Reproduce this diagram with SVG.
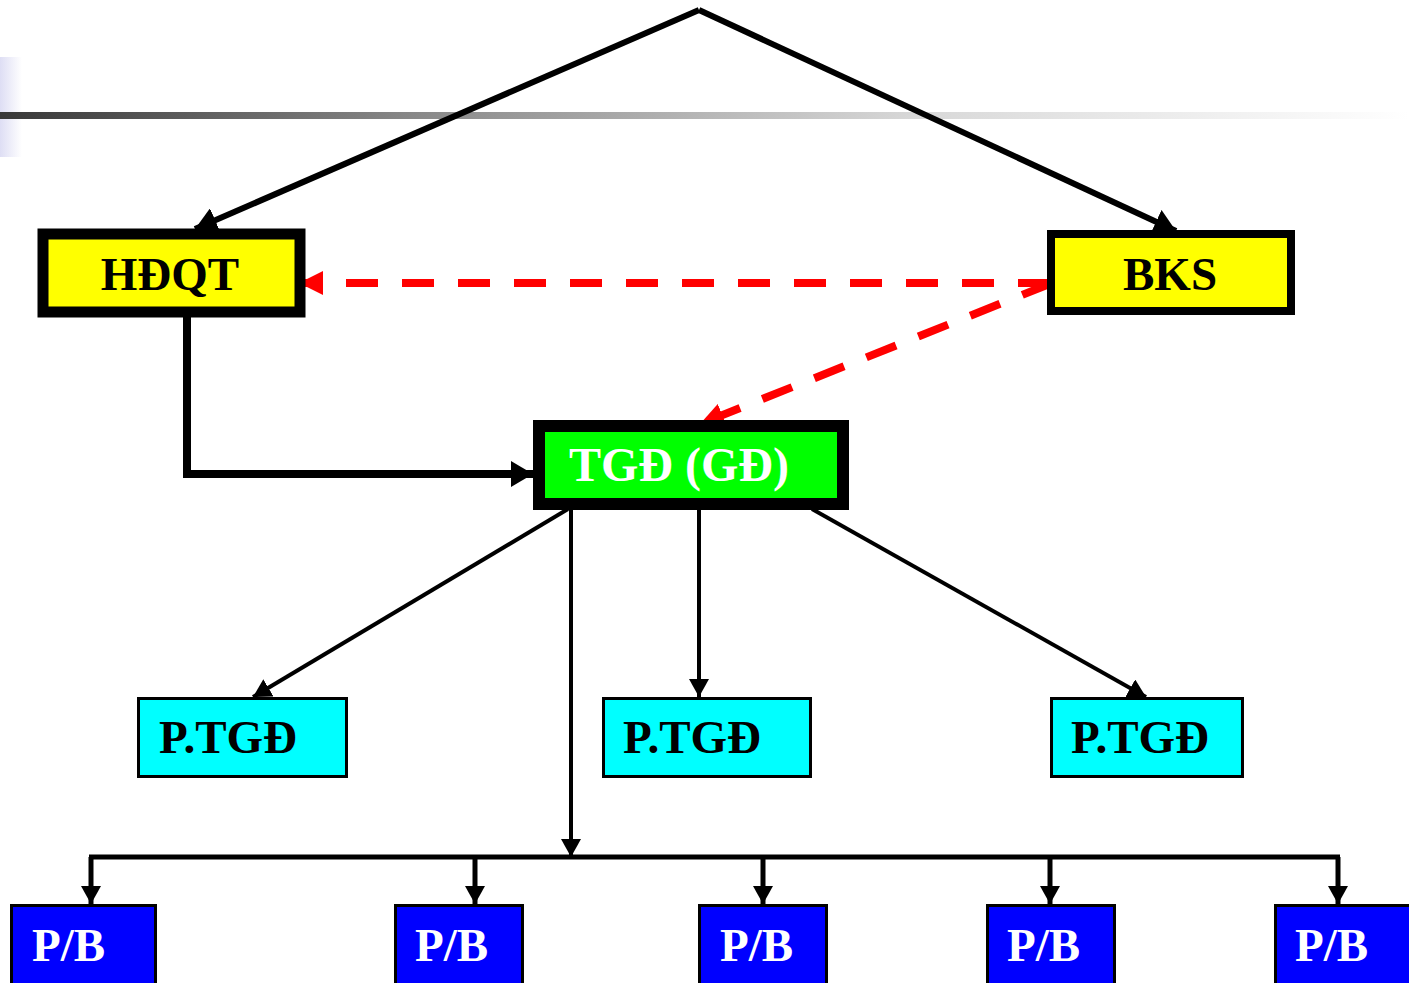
<svg xmlns="http://www.w3.org/2000/svg" width="1409" height="983" viewBox="0 0 1409 983">
  <style>
    .lbl { font-family: "Liberation Serif", "Times New Roman", serif; font-weight: bold; font-size: 47px; }
    .big { font-size: 48px; }
    .dark { fill: #000000; }
    .light { fill: #ffffff; }
    .main { fill: none; stroke: #000000; stroke-width: 6; }
    .feed { fill: none; stroke: #000000; stroke-width: 8; }
    .sub { fill: none; stroke: #000000; stroke-width: 4; }
    .bus { fill: none; stroke: #000000; stroke-width: 5; }
    .ctrl { fill: none; stroke: #ff0000; stroke-width: 8; stroke-dasharray: 32 24; }
  </style>
  <defs>
    <linearGradient id="rule" x1="0" y1="0" x2="1" y2="0">
      <stop offset="0" stop-color="#383838"/>
      <stop offset="0.3" stop-color="#8a8a8a"/>
      <stop offset="0.65" stop-color="#d8d8d8"/>
      <stop offset="1" stop-color="#ffffff"/>
    </linearGradient>
    <linearGradient id="tab" x1="0" y1="0" x2="1" y2="0">
      <stop offset="0" stop-color="#dedef4"/>
      <stop offset="1" stop-color="#ffffff"/>
    </linearGradient>
    <marker id="ahBig" markerUnits="userSpaceOnUse" viewBox="0 0 22 26" refX="22" refY="13" markerWidth="22" markerHeight="26" orient="auto">
      <path d="M0,0 L22,13 L0,26 Z" fill="#000000"/>
    </marker>
    <marker id="ahSmall" markerUnits="userSpaceOnUse" viewBox="0 0 18 20" refX="18" refY="10" markerWidth="18" markerHeight="20" orient="auto">
      <path d="M0,0 L18,10 L0,20 Z" fill="#000000"/>
    </marker>
    <marker id="ahRed" markerUnits="userSpaceOnUse" viewBox="0 0 24 24" refX="24" refY="12" markerWidth="24" markerHeight="24" orient="auto">
      <path d="M0,0 L24,12 L0,24 Z" fill="#ff0000"/>
    </marker>
  </defs>

  <rect width="1409" height="983" fill="#ffffff"/>

  <!-- title rule and tab -->
  <rect x="0" y="57" width="22" height="100" fill="url(#tab)"/>
  <rect x="0" y="112" width="1409" height="7" fill="url(#rule)"/>

  <g id="connectors">
    <path class="main" d="M699,10 L195,229" marker-end="url(#ahBig)"/>
    <path class="main" d="M699,10 L1176,231" marker-end="url(#ahBig)"/>
    <path class="feed" d="M187,317 L187,474 L533,474" marker-end="url(#ahBig)"/>
    <path class="ctrl" d="M1050,283 L299,283" marker-end="url(#ahRed)"/>
    <path class="ctrl" d="M1052,283 L700,424" marker-end="url(#ahRed)"/>
    <path class="sub" d="M568,509 L253,697" marker-end="url(#ahSmall)"/>
    <path class="sub" d="M699,509 L699,697" marker-end="url(#ahSmall)"/>
    <path class="sub" d="M812,509 L1146,697" marker-end="url(#ahSmall)"/>
    <path class="sub" d="M571,509 L571,857" marker-end="url(#ahSmall)"/>
    <path class="bus" d="M89,857 L1340,857"/>
    <path class="bus" d="M91,857 L91,904" marker-end="url(#ahSmall)"/>
    <path class="bus" d="M475,857 L475,904" marker-end="url(#ahSmall)"/>
    <path class="bus" d="M763,857 L763,904" marker-end="url(#ahSmall)"/>
    <path class="bus" d="M1050,857 L1050,904" marker-end="url(#ahSmall)"/>
    <path class="bus" d="M1338,857 L1338,904" marker-end="url(#ahSmall)"/>
  </g>

  <g id="hdqt">
    <rect x="43" y="234" width="257" height="78" fill="#ffff00" stroke="#000000" stroke-width="11"/>
    <text class="lbl dark" x="170" y="290" text-anchor="middle">HĐQT</text>
  </g>

  <g id="bks">
    <rect x="1051" y="234" width="240" height="77" fill="#ffff00" stroke="#000000" stroke-width="8"/>
    <text class="lbl dark" x="1170" y="290" text-anchor="middle">BKS</text>
  </g>

  <g id="tgd">
    <rect x="539" y="426" width="304" height="78" fill="#00ff00" stroke="#000000" stroke-width="12"/>
    <text class="lbl big light" x="569" y="481">TGĐ (GĐ)</text>
  </g>

  <g id="ptgd-1">
    <rect x="138.5" y="698.5" width="208" height="78" fill="#00ffff" stroke="#000000" stroke-width="3"/>
    <text class="lbl dark" x="159" y="753">P.TGĐ</text>
  </g>
  <g id="ptgd-2">
    <rect x="603.5" y="698.5" width="207" height="78" fill="#00ffff" stroke="#000000" stroke-width="3"/>
    <text class="lbl dark" x="623" y="753">P.TGĐ</text>
  </g>
  <g id="ptgd-3">
    <rect x="1051.5" y="698.5" width="191" height="78" fill="#00ffff" stroke="#000000" stroke-width="3"/>
    <text class="lbl dark" x="1071" y="753">P.TGĐ</text>
  </g>

  <g id="pb-1">
    <rect x="11.5" y="905.5" width="144" height="90" fill="#0000ff" stroke="#000000" stroke-width="3"/>
    <text class="lbl light" x="32" y="961">P/B</text>
  </g>
  <g id="pb-2">
    <rect x="395.5" y="905.5" width="127" height="90" fill="#0000ff" stroke="#000000" stroke-width="3"/>
    <text class="lbl light" x="415" y="961">P/B</text>
  </g>
  <g id="pb-3">
    <rect x="699.5" y="905.5" width="127" height="90" fill="#0000ff" stroke="#000000" stroke-width="3"/>
    <text class="lbl light" x="720" y="961">P/B</text>
  </g>
  <g id="pb-4">
    <rect x="987.5" y="905.5" width="127" height="90" fill="#0000ff" stroke="#000000" stroke-width="3"/>
    <text class="lbl light" x="1007" y="961">P/B</text>
  </g>
  <g id="pb-5">
    <rect x="1275.5" y="905.5" width="140" height="90" fill="#0000ff" stroke="#000000" stroke-width="3"/>
    <text class="lbl light" x="1295" y="961">P/B</text>
  </g>
</svg>
